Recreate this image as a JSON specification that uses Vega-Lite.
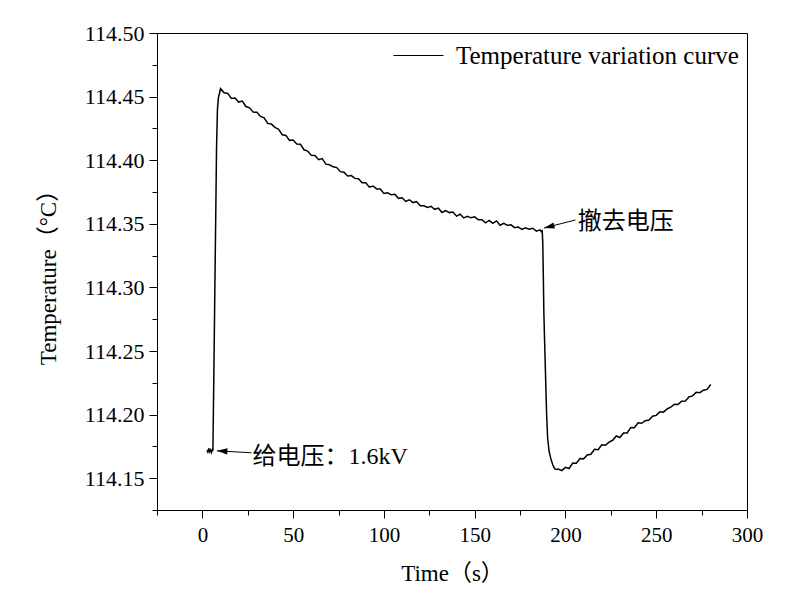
{
  "$schema": "https://vega.github.io/schema/vega-lite/v6.json",
  "width": 590,
  "height": 477,
  "autosize": "none",
  "padding": {"left": 157, "top": 33, "right": 53, "bottom": 90},
  "background": "white",
  "config": {
    "view": {"stroke": "black", "strokeWidth": 1},
    "axis": {
      "domainColor": "black", "tickColor": "black", "labelColor": "black", "titleColor": "black",
      "grid": false, "labelFont": "Liberation Serif", "titleFont": "Liberation Serif, Noto Sans CJK SC",
      "labelFontSize": 21, "titleFontSize": 23, "titleFontWeight": "normal", "tickWidth": 1, "domainWidth": 1
    },
    "legend": {"labelFont": "Liberation Serif", "labelFontSize": 25, "labelColor": "black", "labelLimit": 0}
  },
  "datasets": {
    "curve": [
      {"t": 2.5, "temp": 114.172}, {"t": 3.0, "temp": 114.1705}, {"t": 3.5, "temp": 114.1735}, {"t": 4.0, "temp": 114.1708},
      {"t": 4.5, "temp": 114.1722}, {"t": 5.0, "temp": 114.1702}, {"t": 5.5, "temp": 114.1725}, {"t": 5.8, "temp": 114.1715},
      {"t": 6.3, "temp": 114.23}, {"t": 6.8, "temp": 114.29}, {"t": 7.3, "temp": 114.35}, {"t": 7.8, "temp": 114.41},
      {"t": 8.3, "temp": 114.44}, {"t": 8.8, "temp": 114.449}, {"t": 9.5, "temp": 114.453},
      {"t": 10, "temp": 114.4562}, {"t": 12, "temp": 114.4530}, {"t": 14, "temp": 114.4525}, {"t": 16, "temp": 114.4486},
      {"t": 18, "temp": 114.4489}, {"t": 20, "temp": 114.4457}, {"t": 22, "temp": 114.4465}, {"t": 24, "temp": 114.4422},
      {"t": 26, "temp": 114.4412}, {"t": 28, "temp": 114.4378}, {"t": 30, "temp": 114.4377}, {"t": 32, "temp": 114.4344},
      {"t": 34, "temp": 114.4333}, {"t": 36, "temp": 114.4289}, {"t": 38, "temp": 114.4284}, {"t": 40, "temp": 114.4258},
      {"t": 42, "temp": 114.4242}, {"t": 44, "temp": 114.4200}, {"t": 46, "temp": 114.4195}, {"t": 48, "temp": 114.4156},
      {"t": 50, "temp": 114.4159}, {"t": 52, "temp": 114.4127}, {"t": 54, "temp": 114.4125}, {"t": 56, "temp": 114.4082},
      {"t": 58, "temp": 114.4072}, {"t": 60, "temp": 114.4038}, {"t": 62, "temp": 114.4037}, {"t": 64, "temp": 114.4004},
      {"t": 66, "temp": 114.4013}, {"t": 68, "temp": 114.3969}, {"t": 70, "temp": 114.3964}, {"t": 72, "temp": 114.3948},
      {"t": 74, "temp": 114.3942}, {"t": 76, "temp": 114.3910}, {"t": 78, "temp": 114.3905}, {"t": 80, "temp": 114.3876},
      {"t": 82, "temp": 114.3879}, {"t": 84, "temp": 114.3857}, {"t": 86, "temp": 114.3855}, {"t": 88, "temp": 114.3822},
      {"t": 90, "temp": 114.3822}, {"t": 92, "temp": 114.3788}, {"t": 94, "temp": 114.3797}, {"t": 96, "temp": 114.3774},
      {"t": 98, "temp": 114.3773}, {"t": 100, "temp": 114.3739}, {"t": 102, "temp": 114.3744}, {"t": 104, "temp": 114.3728},
      {"t": 106, "temp": 114.3732}, {"t": 108, "temp": 114.3700}, {"t": 110, "temp": 114.3705}, {"t": 112, "temp": 114.3676},
      {"t": 114, "temp": 114.3689}, {"t": 116, "temp": 114.3667}, {"t": 118, "temp": 114.3675}, {"t": 120, "temp": 114.3642},
      {"t": 122, "temp": 114.3642}, {"t": 124, "temp": 114.3628}, {"t": 126, "temp": 114.3637}, {"t": 128, "temp": 114.3614},
      {"t": 130, "temp": 114.3623}, {"t": 132, "temp": 114.3589}, {"t": 134, "temp": 114.3604}, {"t": 136, "temp": 114.3588},
      {"t": 138, "temp": 114.3592}, {"t": 140, "temp": 114.3560}, {"t": 142, "temp": 114.3575}, {"t": 144, "temp": 114.3546},
      {"t": 146, "temp": 114.3559}, {"t": 148, "temp": 114.3547}, {"t": 150, "temp": 114.3555}, {"t": 152, "temp": 114.3532},
      {"t": 154, "temp": 114.3532}, {"t": 156, "temp": 114.3508}, {"t": 158, "temp": 114.3527}, {"t": 160, "temp": 114.3504},
      {"t": 162, "temp": 114.3523}, {"t": 164, "temp": 114.3489}, {"t": 166, "temp": 114.3504}, {"t": 168, "temp": 114.3488},
      {"t": 170, "temp": 114.3492}, {"t": 172, "temp": 114.3470}, {"t": 174, "temp": 114.3475}, {"t": 176, "temp": 114.3456},
      {"t": 178, "temp": 114.3469}, {"t": 180, "temp": 114.3457}, {"t": 182, "temp": 114.3465}, {"t": 184, "temp": 114.3442},
      {"t": 186, "temp": 114.3452}, {"t": 186.6, "temp": 114.3440}, {"t": 187.2, "temp": 114.3445},
      {"t": 187.5, "temp": 114.335}, {"t": 187.8, "temp": 114.31}, {"t": 188.1, "temp": 114.28}, {"t": 188.6, "temp": 114.253},
      {"t": 189.1, "temp": 114.227}, {"t": 189.6, "temp": 114.201}, {"t": 190.2, "temp": 114.181}, {"t": 191.0, "temp": 114.171},
      {"t": 192, "temp": 114.165}, {"t": 193, "temp": 114.1605}, {"t": 194, "temp": 114.1575}, {"t": 195, "temp": 114.1568},
      {"t": 196, "temp": 114.1572}, {"t": 198, "temp": 114.1560}, {"t": 200, "temp": 114.1585}, {"t": 202, "temp": 114.1576},
      {"t": 204, "temp": 114.1619}, {"t": 206, "temp": 114.1617}, {"t": 208, "temp": 114.1655}, {"t": 210, "temp": 114.1652},
      {"t": 212, "temp": 114.1682}, {"t": 214, "temp": 114.1688}, {"t": 216, "temp": 114.1727}, {"t": 218, "temp": 114.1724},
      {"t": 220, "temp": 114.1763}, {"t": 222, "temp": 114.1759}, {"t": 224, "temp": 114.1784}, {"t": 226, "temp": 114.1798},
      {"t": 228, "temp": 114.1832}, {"t": 230, "temp": 114.1820}, {"t": 232, "temp": 114.1855}, {"t": 234, "temp": 114.1856},
      {"t": 236, "temp": 114.1899}, {"t": 238, "temp": 114.1897}, {"t": 240, "temp": 114.1935}, {"t": 242, "temp": 114.1932},
      {"t": 244, "temp": 114.1952}, {"t": 246, "temp": 114.1958}, {"t": 248, "temp": 114.1987}, {"t": 250, "temp": 114.1994},
      {"t": 252, "temp": 114.2023}, {"t": 254, "temp": 114.2019}, {"t": 256, "temp": 114.2044}, {"t": 258, "temp": 114.2058},
      {"t": 260, "temp": 114.2082}, {"t": 262, "temp": 114.2080}, {"t": 264, "temp": 114.2105}, {"t": 266, "temp": 114.2106},
      {"t": 268, "temp": 114.2139}, {"t": 270, "temp": 114.2147}, {"t": 272, "temp": 114.2175}, {"t": 274, "temp": 114.2172},
      {"t": 276, "temp": 114.2192}, {"t": 278, "temp": 114.2198}, {"t": 280, "temp": 114.2237}
    ],
    "arrows": [
      {"t": 27.0, "temp": 114.1700, "t2": 8.0, "temp2": 114.1715, "ang": 3},
      {"t": 205.5, "temp": 114.3530, "t2": 188.2, "temp2": 114.3467, "ang": -14}
    ],
    "notes": [
      {"t": 27.6, "temp": 114.1668, "label": "给电压：1.6kV"},
      {"t": 206.8, "temp": 114.3515, "label": "撤去电压"}
    ]
  },
  "encoding": {
    "x": {
      "field": "t", "type": "quantitative",
      "scale": {"domain": [-25, 300], "nice": false, "zero": false},
      "axis": {
        "title": "Time（s）",
        "values": [-25, 0, 25, 50, 75, 100, 125, 150, 175, 200, 225, 250, 275, 300],
        "labelExpr": "datum.value % 50 == 0 ? datum.label : ''",
        "tickSize": {"condition": {"test": "datum.value % 50 == 0", "value": 8}, "value": 5},
        "labelPadding": 6, "titlePadding": 17, "labelFlush": false, "labelOverlap": false
      }
    },
    "y": {
      "field": "temp", "type": "quantitative",
      "scale": {"domain": [114.125, 114.5], "nice": false, "zero": false},
      "axis": {
        "title": "Temperature（°C）",
        "values": [114.125, 114.15, 114.175, 114.2, 114.225, 114.25, 114.275, 114.3, 114.325, 114.35, 114.375, 114.4, 114.425, 114.45, 114.475, 114.5],
        "labelExpr": "abs(datum.value*20 - round(datum.value*20)) < 0.01 ? format(datum.value, '.2f') : ''",
        "tickSize": {"condition": {"test": "abs(datum.value*20 - round(datum.value*20)) < 0.01", "value": 8}, "value": 5},
        "labelFontSize": 22,
        "labelPadding": 5, "titlePadding": 24, "labelFlush": false, "labelOverlap": false
      }
    }
  },
  "layer": [
    {
      "data": {"name": "curve"},
      "mark": {"type": "line", "strokeWidth": 1.5, "interpolate": "linear"},
      "encoding": {
        "color": {
          "datum": "Temperature variation curve",
          "type": "nominal",
          "scale": {"range": ["black"]},
          "legend": {
            "title": null, "orient": "none", "legendX": 236, "legendY": -3,
            "symbolType": "stroke", "symbolSize": 2500, "symbolStrokeWidth": 1,
            "labelOffset": 12, "padding": 0
          }
        }
      }
    },
    {
      "data": {"name": "arrows"},
      "mark": {"type": "rule", "color": "black", "strokeWidth": 1},
      "encoding": {
        "x2": {"field": "t2"},
        "y2": {"field": "temp2"}
      }
    },
    {
      "data": {"name": "arrows"},
      "mark": {"type": "point", "shape": "M0,0L2,-0.6L2,0.6Z", "filled": true, "color": "black", "opacity": 1, "size": 110},
      "encoding": {
        "x": {"field": "t2", "type": "quantitative"},
        "y": {"field": "temp2", "type": "quantitative"},
        "angle": {"field": "ang", "type": "quantitative", "scale": null}
      }
    },
    {
      "data": {"name": "notes"},
      "mark": {"type": "text", "align": "left", "baseline": "middle", "font": "Liberation Serif, Noto Sans CJK SC", "fontSize": 24, "color": "black"},
      "encoding": {
        "text": {"field": "label"}
      }
    }
  ]
}
